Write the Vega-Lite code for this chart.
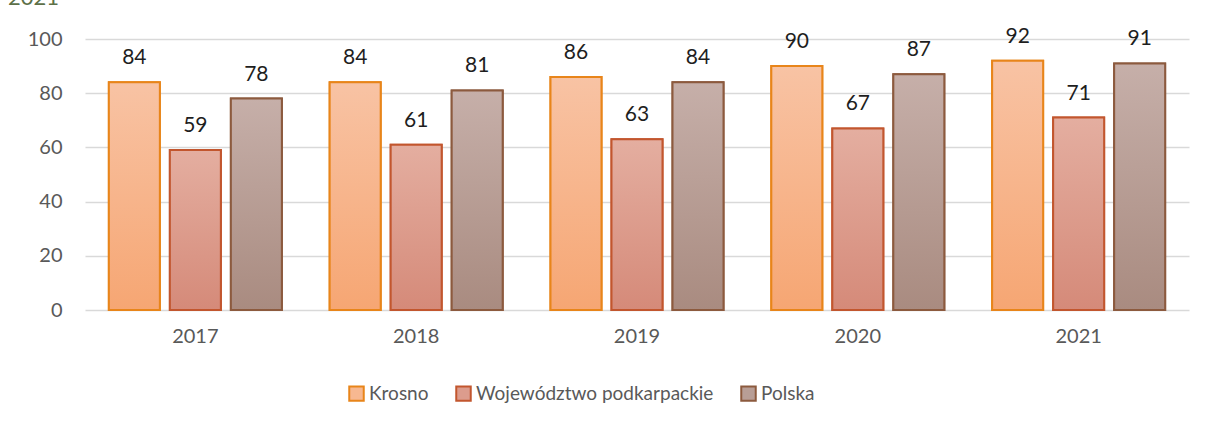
{
  "$schema": "https://vega.github.io/schema/vega-lite/v6.json",
  "width": 1104,
  "height": 271,
  "autosize": {"type": "none"},
  "padding": {"left": 85, "top": 39, "right": 19, "bottom": 115},
  "background": "white",
  "config": {
    "font": "Lato",
    "view": {"stroke": null}
  },
  "title": {
    "text": "2021",
    "anchor": "start",
    "frame": "group",
    "orient": "none",
    "baseline": "alphabetic",
    "align": "left",
    "dx": -77,
    "dy": -34,
    "fontSize": 22,
    "fontWeight": "normal",
    "color": "#5d7048",
    "font": "Lato"
  },
  "data": {
    "values": [
      {"year": "2017", "series": "Krosno", "value": 84},
      {"year": "2017", "series": "Województwo podkarpackie", "value": 59},
      {"year": "2017", "series": "Polska", "value": 78},
      {"year": "2018", "series": "Krosno", "value": 84},
      {"year": "2018", "series": "Województwo podkarpackie", "value": 61},
      {"year": "2018", "series": "Polska", "value": 81},
      {"year": "2019", "series": "Krosno", "value": 86},
      {"year": "2019", "series": "Województwo podkarpackie", "value": 63},
      {"year": "2019", "series": "Polska", "value": 84},
      {"year": "2020", "series": "Krosno", "value": 90},
      {"year": "2020", "series": "Województwo podkarpackie", "value": 67},
      {"year": "2020", "series": "Polska", "value": 87},
      {"year": "2021", "series": "Krosno", "value": 92},
      {"year": "2021", "series": "Województwo podkarpackie", "value": 71},
      {"year": "2021", "series": "Polska", "value": 91}
    ]
  },
  "encoding": {
    "x": {
      "field": "year",
      "type": "nominal",
      "scale": {"paddingInner": 0.2165, "paddingOuter": 0.108},
      "axis": {
        "title": null,
        "labelAngle": 0,
        "labelFontSize": 20,
        "labelColor": "#595959",
        "labelPadding": 16,
        "ticks": false,
        "domain": false
      }
    },
    "xOffset": {
      "field": "series",
      "type": "nominal",
      "scale": {
        "domain": ["Krosno", "Województwo podkarpackie", "Polska"],
        "paddingInner": 0.164,
        "paddingOuter": 0
      }
    },
    "y": {
      "field": "value",
      "type": "quantitative",
      "scale": {"domain": [0, 100], "nice": false},
      "axis": {
        "title": null,
        "values": [0, 20, 40, 60, 80, 100],
        "labelFontSize": 20,
        "labelColor": "#595959",
        "labelPadding": 23,
        "ticks": false,
        "domain": false,
        "grid": true,
        "gridColor": "#d9d9d9",
        "gridWidth": 1.5
      }
    }
  },
  "layer": [
    {
      "mark": {"type": "bar", "strokeWidth": 2},
      "encoding": {
        "fill": {
          "field": "series",
          "type": "nominal",
          "scale": {
            "domain": ["Krosno", "Województwo podkarpackie", "Polska"],
            "range": ["#f7b891", "#dc9c8d", "#b89e96"]
          },
          "legend": {
            "title": null,
            "orient": "none",
            "direction": "horizontal",
            "legendX": 262,
            "legendY": 345,
            "columnPadding": 23,
            "symbolType": "square",
            "symbolSize": 210,
            "symbolStrokeWidth": 2,
            "labelFontSize": 19,
            "labelColor": "#595959",
            "labelOffset": 3,
            "labelLimit": 0
          }
        },
        "stroke": {
          "field": "series",
          "type": "nominal",
          "scale": {
            "domain": ["Krosno", "Województwo podkarpackie", "Polska"],
            "range": ["#e8851a", "#c2562e", "#8c5a3e"]
          },
          "legend": null
        }
      }
    },
    {
      "transform": [{"filter": "datum.series === 'Krosno'"}],
      "mark": {
        "type": "bar",
        "stroke": "#e8851a",
        "strokeWidth": 2,
        "fill": {
          "gradient": "linear",
          "x1": 0, "y1": 0, "x2": 0, "y2": 1,
          "stops": [{"offset": 0, "color": "#f8c3a4"}, {"offset": 1, "color": "#f6a673"}]
        }
      }
    },
    {
      "transform": [{"filter": "datum.series === 'Województwo podkarpackie'"}],
      "mark": {
        "type": "bar",
        "stroke": "#c2562e",
        "strokeWidth": 2,
        "fill": {
          "gradient": "linear",
          "x1": 0, "y1": 0, "x2": 0, "y2": 1,
          "stops": [{"offset": 0, "color": "#e4aea0"}, {"offset": 1, "color": "#d58a79"}]
        }
      }
    },
    {
      "transform": [{"filter": "datum.series === 'Polska'"}],
      "mark": {
        "type": "bar",
        "stroke": "#8c5a3e",
        "strokeWidth": 2,
        "fill": {
          "gradient": "linear",
          "x1": 0, "y1": 0, "x2": 0, "y2": 1,
          "stops": [{"offset": 0, "color": "#c6afa9"}, {"offset": 1, "color": "#a98b80"}]
        }
      }
    },
    {
      "mark": {
        "type": "text",
        "baseline": "alphabetic",
        "dy": -18,
        "fontSize": 21,
        "color": "#1e1e1e"
      },
      "encoding": {
        "text": {"field": "value", "type": "quantitative"}
      }
    }
  ]
}
